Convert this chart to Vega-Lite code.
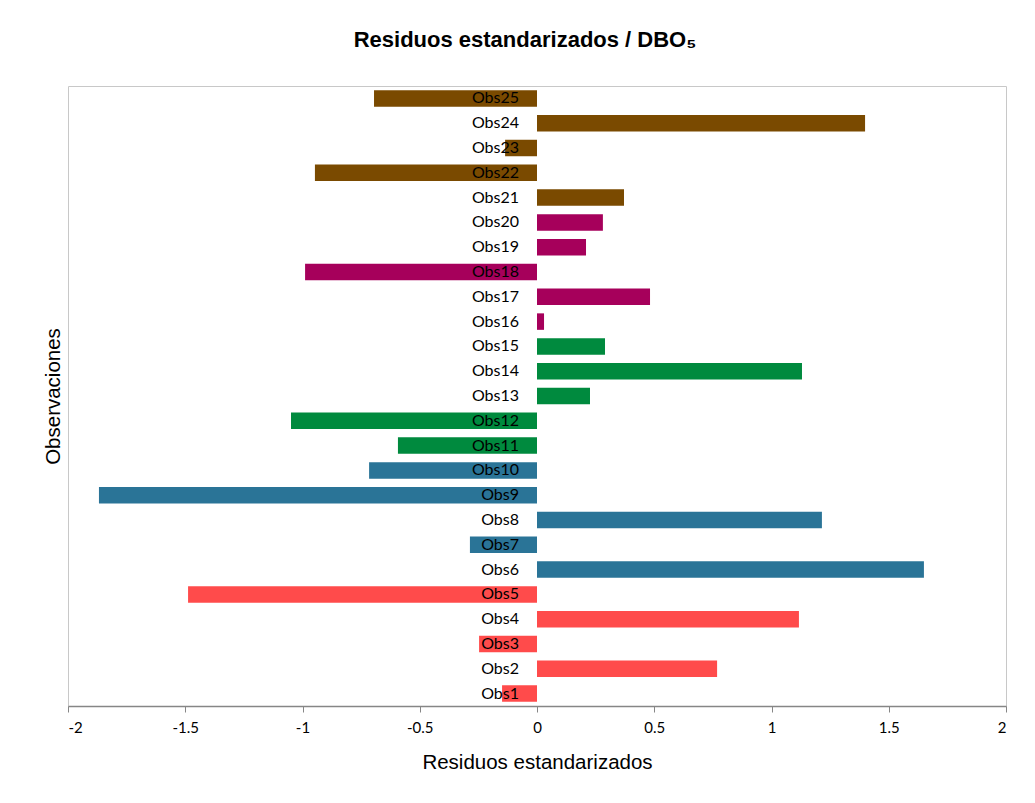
{
  "$schema": "https://vega.github.io/schema/vega-lite/v6.json",
  "width": 938,
  "height": 620,
  "autosize": {"type": "none"},
  "padding": {"left": 68, "top": 86, "right": 29, "bottom": 97},
  "background": "white",
  "title": {
    "text": "Residuos estandarizados / DBO₅",
    "font": "Liberation Sans",
    "fontSize": 22,
    "fontWeight": "bold",
    "color": "#000000",
    "anchor": "middle",
    "dx": -12,
    "offset": 34
  },
  "config": {
    "view": {"stroke": "#C8C8C8", "strokeWidth": 1},
    "axis": {"grid": false}
  },
  "data": {
    "values": [
      {"obs": "Obs1", "n": 1, "grupo": "A", "residuo": -0.149},
      {"obs": "Obs2", "n": 2, "grupo": "A", "residuo": 0.768},
      {"obs": "Obs3", "n": 3, "grupo": "A", "residuo": -0.247},
      {"obs": "Obs4", "n": 4, "grupo": "A", "residuo": 1.117},
      {"obs": "Obs5", "n": 5, "grupo": "A", "residuo": -1.488},
      {"obs": "Obs6", "n": 6, "grupo": "B", "residuo": 1.650},
      {"obs": "Obs7", "n": 7, "grupo": "B", "residuo": -0.286},
      {"obs": "Obs8", "n": 8, "grupo": "B", "residuo": 1.215},
      {"obs": "Obs9", "n": 9, "grupo": "B", "residuo": -1.868},
      {"obs": "Obs10", "n": 10, "grupo": "B", "residuo": -0.716},
      {"obs": "Obs11", "n": 11, "grupo": "C", "residuo": -0.593},
      {"obs": "Obs12", "n": 12, "grupo": "C", "residuo": -1.049},
      {"obs": "Obs13", "n": 13, "grupo": "C", "residuo": 0.226},
      {"obs": "Obs14", "n": 14, "grupo": "C", "residuo": 1.130},
      {"obs": "Obs15", "n": 15, "grupo": "C", "residuo": 0.290},
      {"obs": "Obs16", "n": 16, "grupo": "D", "residuo": 0.030},
      {"obs": "Obs17", "n": 17, "grupo": "D", "residuo": 0.482},
      {"obs": "Obs18", "n": 18, "grupo": "D", "residuo": -0.989},
      {"obs": "Obs19", "n": 19, "grupo": "D", "residuo": 0.209},
      {"obs": "Obs20", "n": 20, "grupo": "D", "residuo": 0.281},
      {"obs": "Obs21", "n": 21, "grupo": "E", "residuo": 0.371},
      {"obs": "Obs22", "n": 22, "grupo": "E", "residuo": -0.947},
      {"obs": "Obs23", "n": 23, "grupo": "E", "residuo": -0.136},
      {"obs": "Obs24", "n": 24, "grupo": "E", "residuo": 1.399},
      {"obs": "Obs25", "n": 25, "grupo": "E", "residuo": -0.695}
    ]
  },
  "encoding": {
    "y": {
      "field": "obs",
      "type": "nominal",
      "sort": {"field": "n", "order": "descending"},
      "scale": {"paddingInner": 0.335, "paddingOuter": 0.1675},
      "axis": {
        "title": "Observaciones",
        "labels": false,
        "ticks": false,
        "domain": false,
        "titleFont": "Liberation Sans",
        "titleFontSize": 20.5,
        "titleFontWeight": "normal",
        "titleColor": "#000000",
        "titlePadding": 5
      }
    }
  },
  "layer": [
    {
      "mark": {"type": "bar"},
      "encoding": {
        "x": {
          "field": "residuo",
          "type": "quantitative",
          "scale": {"domain": [-2, 2], "nice": false, "zero": false},
          "axis": {
            "title": "Residuos estandarizados",
            "values": [-2, -1.5, -1, -0.5, 0, 0.5, 1, 1.5, 2],
            "labelExpr": "replace(format(datum.value, '~g'), '−', '-')",
            "labelFont": "Lato",
            "labelFontSize": 15,
            "labelColor": "#000000",
            "labelPadding": 8,
            "tickColor": "#868686",
            "tickSize": 6,
            "domainColor": "#868686",
            "domainWidth": 1.5,
            "titleFont": "Liberation Sans",
            "titleFontSize": 20.5,
            "titleFontWeight": "normal",
            "titleColor": "#000000",
            "titlePadding": 17
          }
        },
        "x2": {"datum": 0},
        "color": {
          "field": "grupo",
          "type": "nominal",
          "scale": {
            "domain": ["A", "B", "C", "D", "E"],
            "range": ["#FF4B4B", "#2A7497", "#008A3E", "#A6005B", "#7A4A00"]
          },
          "legend": null
        }
      }
    },
    {
      "mark": {"type": "rule", "color": "#868686", "strokeWidth": 1.5},
      "encoding": {"x": {"datum": 0}}
    },
    {
      "mark": {"type": "text", "align": "right", "baseline": "middle", "dx": -18, "font": "Lato", "fontSize": 16, "color": "#000000"},
      "encoding": {
        "x": {"datum": 0},
        "text": {"field": "obs"}
      }
    }
  ]
}
